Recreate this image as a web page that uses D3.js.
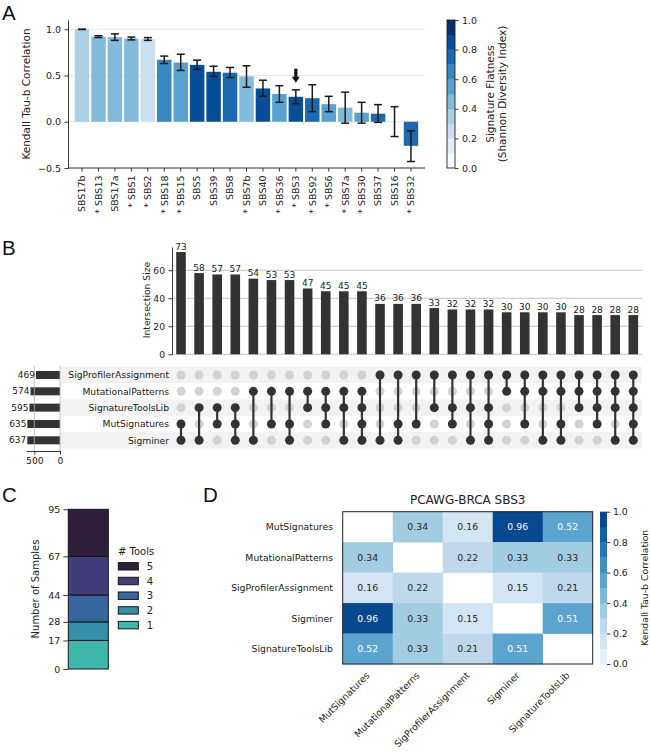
<!DOCTYPE html>
<html>
<head>
<meta charset="utf-8">
<script src="https://cdn.jsdelivr.net/npm/d3@7"></script>
<style>
  body { margin: 0; background: #fff; }
  svg { font-family: "DejaVu Sans", sans-serif; }
</style>
</head>
<body>
<svg id="fig" width="650" height="754"></svg>
<script>
// ---- panel A data
const sigNames = ["SBS17b", "* SBS13", "SBS17a", "* SBS1", "* SBS2", "* SBS18", "* SBS15", "SBS5", "SBS39", "SBS8",
  "* SBS7b", "SBS40", "* SBS36", "* SBS3", "* SBS92", "* SBS6", "* SBS7a", "* SBS30", "SBS37", "SBS16", "* SBS32"];
const tauMean = [1.0, 0.92, 0.915, 0.90, 0.895, 0.67, 0.64, 0.615, 0.54, 0.53, 0.49, 0.36, 0.30, 0.27, 0.255, 0.19, 0.152, 0.098, 0.087, 0.0, -0.26];
const tauLow = [0.997, 0.91, 0.88, 0.885, 0.88, 0.63, 0.555, 0.565, 0.49, 0.478, 0.373, 0.275, 0.21, 0.196, 0.11, 0.109, -0.015, -0.015, -0.007, -0.16, -0.43];
const tauHigh = [1.0, 0.93, 0.95, 0.915, 0.91, 0.71, 0.73, 0.666, 0.60, 0.587, 0.605, 0.449, 0.39, 0.345, 0.40, 0.275, 0.32, 0.21, 0.185, 0.163, -0.098];
const flatness = [0.35, 0.45, 0.45, 0.45, 0.25, 0.65, 0.55, 0.85, 0.85, 0.75, 0.45, 0.85, 0.55, 0.85, 0.75, 0.55, 0.45, 0.55, 0.75, 0.55, 0.75];
const markedSig = "* SBS3";

// ---- panel B data
const toolNames = ["SigProfilerAssignment", "MutationalPatterns", "SignatureToolsLib", "MutSignatures", "Sigminer"];
const toolTotals = [469, 574, 595, 635, 637];
const interSizes = [73, 58, 57, 57, 54, 53, 53, 47, 45, 45, 45, 36, 36, 36, 33, 32, 32, 32, 30, 30, 30, 30, 28, 28, 28, 28];
// members of each intersection, as indexes into toolNames
const interMembers = [[3, 4], [2, 4], [2, 3], [2, 3, 4], [1, 4], [1, 3], [1, 3, 4], [1, 2], [1, 2, 3], [1, 2, 4], [1, 2, 3, 4],
  [0, 4], [0, 3, 4], [0, 3], [0, 2], [0, 2, 3], [0, 2, 4], [0, 2, 3, 4], [0, 1], [0, 1, 3], [0, 1, 4], [0, 1, 3, 4],
  [0, 1, 2], [0, 1, 2, 3], [0, 1, 2, 4], [0, 1, 2, 3, 4]];

// ---- panel C data
const toolCounts = ["1", "2", "3", "4", "5"];
const sampleCounts = [17, 11, 16, 23, 28];

// ---- panel D data
const heatTools = ["MutSignatures", "MutationalPatterns", "SigProfilerAssignment", "Sigminer", "SignatureToolsLib"];
const heatValues = [
  [null, 0.34, 0.16, 0.96, 0.52],
  [0.34, null, 0.22, 0.33, 0.33],
  [0.16, 0.22, null, 0.15, 0.21],
  [0.96, 0.33, 0.15, null, 0.51],
  [0.52, 0.33, 0.21, 0.51, null]
];

const BLUES9 = ["#f7fbff", "#deebf7", "#c6dbef", "#9ecae1", "#6baed6", "#4292c6", "#2171b5", "#08519c", "#08306b"];
const MAKO5 = ["#40B7AD", "#348FA7", "#37659E", "#413D7B", "#2E1E3C"];
const blues = d3.scaleLinear().domain(d3.range(9).map(i => i / 8)).range(BLUES9);

const svg = d3.select('#fig');

function styleAxis(g, size) {
  g.attr('font-family', null).attr('font-size', null);
  g.selectAll('text').attr('font-size', size).attr('fill', '#222');
  g.selectAll('line,path').attr('stroke', '#222').attr('stroke-width', 0.9);
}

// panel letters
[["A", 2, 19.5], ["B", 2, 255], ["C", 2, 502], ["D", 203, 502]].forEach(([t, x, y]) => {
  svg.append('text').attr('x', x).attr('y', y).attr('font-family', 'Liberation Sans')
    .attr('font-size', 20.5).attr('fill', '#111').text(t);
});

// ================= A =================
const gA = svg.append('g');
const aColor = d3.scaleQuantize().domain([0, 1]).range(d3.range(10).map(i => blues(i / 9)));
const ax = d3.scaleBand().domain(sigNames).range([73.8, 419.2]).paddingInner(0.12).paddingOuter(0.06);
const ay = d3.scaleLinear().domain([-0.5, 1.1]).range([168, 20]);

gA.selectAll('line.grid').data([-0.5, 0, 0.5, 1]).join('line')
  .attr('class', 'grid')
  .attr('x1', 68).attr('x2', 425)
  .attr('y1', d => ay(d)).attr('y2', d => ay(d))
  .attr('stroke', '#e4e4e4').attr('stroke-width', 0.9);

gA.selectAll('rect.bar').data(sigNames).join('rect')
  .attr('class', 'bar')
  .attr('x', d => ax(d))
  .attr('width', ax.bandwidth())
  .attr('y', (d, i) => ay(Math.max(0, tauMean[i])))
  .attr('height', (d, i) => Math.abs(ay(tauMean[i]) - ay(0)))
  .attr('fill', (d, i) => aColor(flatness[i]));

const errG = gA.selectAll('g.err').data(sigNames).join('g')
  .attr('class', 'err')
  .attr('transform', d => `translate(${ax(d) + ax.bandwidth() / 2},0)`)
  .attr('stroke', '#1a1a1a').attr('stroke-width', 1.5);
errG.append('line').attr('y1', (d, i) => ay(tauLow[i])).attr('y2', (d, i) => ay(tauHigh[i]));
errG.append('line').attr('x1', -4).attr('x2', 4).attr('y1', (d, i) => ay(tauLow[i])).attr('y2', (d, i) => ay(tauLow[i]));
errG.append('line').attr('x1', -4).attr('x2', 4).attr('y1', (d, i) => ay(tauHigh[i])).attr('y2', (d, i) => ay(tauHigh[i]));

// arrow over the highlighted signature
const mi = sigNames.indexOf(markedSig);
const arrowX = ax(markedSig) + ax.bandwidth() / 2;
const arrowTip = ay(tauHigh[mi]) - 7;
gA.append('path')
  .attr('d', `M${arrowX - 1.6},${arrowTip - 14} L${arrowX + 1.6},${arrowTip - 14} L${arrowX + 1.6},${arrowTip - 6} L${arrowX + 4},${arrowTip - 6} L${arrowX},${arrowTip} L${arrowX - 4},${arrowTip - 6} L${arrowX - 1.6},${arrowTip - 6} Z`)
  .attr('fill', '#111');

const aYAxis = gA.append('g').attr('transform', 'translate(68,0)')
  .call(d3.axisLeft(ay).tickValues([-0.5, 0, 0.5, 1]).tickFormat(d3.format('.1f')).tickSize(3.5).tickPadding(3.5).tickSizeOuter(0));
styleAxis(aYAxis, 9.5);

const aXAxis = gA.append('g').attr('transform', 'translate(0,168)')
  .call(d3.axisBottom(ax).tickSize(3.5).tickSizeOuter(0));
aXAxis.select('.domain').remove();
styleAxis(aXAxis, 9.5);
aXAxis.selectAll('text')
  .attr('transform', 'rotate(-90)')
  .attr('x', -7.5).attr('y', 0).attr('dy', '0.35em')
  .style('text-anchor', 'end');
gA.append('line').attr('x1', 68).attr('x2', 425).attr('y1', 168).attr('y2', 168)
  .attr('stroke', '#222').attr('stroke-width', 0.9);

gA.append('text')
  .attr('transform', `translate(26,${(ay(1.1) + ay(-0.5)) / 2}) rotate(-90)`)
  .attr('text-anchor', 'middle').attr('dy', '0.35em')
  .attr('font-size', 10.5).attr('fill', '#222')
  .text('Kendall Tau-b Correlation');

// colorbar A
const cbA = d3.scaleLinear().domain([0, 1]).range([168, 20]);
gA.selectAll('rect.cb').data(d3.range(10)).join('rect')
  .attr('class', 'cb')
  .attr('x', 447).attr('width', 8)
  .attr('y', d => cbA((d + 1) / 10)).attr('height', cbA(0) - cbA(0.1) + 0.3)
  .attr('fill', d => blues(d / 9));
gA.append('rect').attr('x', 447).attr('y', 20).attr('width', 8).attr('height', 148)
  .attr('fill', 'none').attr('stroke', '#222').attr('stroke-width', 0.9);
const cbAAxis = gA.append('g').attr('transform', 'translate(455,0)')
  .call(d3.axisRight(cbA).tickValues(d3.range(0, 1.01, 0.2)).tickFormat(d3.format('.1f')).tickSize(3.5).tickPadding(3.5).tickSizeOuter(0));
cbAAxis.select('.domain').remove();
styleAxis(cbAAxis, 9.5);
[["Signature Flatness", 490], ["(Shannon Diversity Index)", 502.5]].forEach(([t, x]) => {
  gA.append('text')
    .attr('transform', `translate(${x},94) rotate(-90)`)
    .attr('text-anchor', 'middle').attr('dy', '0.35em')
    .attr('font-size', 10.5).attr('fill', '#222')
    .text(t);
});

// ================= B =================
const gB = svg.append('g');
const bx = d3.scalePoint().domain(d3.range(interSizes.length)).range([181, 633.3]);
const by = d3.scaleLinear().domain([0, 76.6]).range([354.3, 247]);
const barW = 9.6;

gB.selectAll('line.grid').data([0, 20, 40, 60]).join('line')
  .attr('class', 'grid')
  .attr('x1', 172).attr('x2', 642)
  .attr('y1', d => by(d)).attr('y2', d => by(d))
  .attr('stroke', '#b5b5b5').attr('stroke-width', 0.8);

gB.selectAll('rect.ibar').data(interSizes).join('rect')
  .attr('class', 'ibar')
  .attr('x', (d, i) => bx(i) - barW / 2)
  .attr('width', barW)
  .attr('y', d => by(d))
  .attr('height', d => by(0) - by(d))
  .attr('fill', '#333');

gB.selectAll('text.ilab').data(interSizes).join('text')
  .attr('class', 'ilab')
  .attr('x', (d, i) => bx(i))
  .attr('y', d => by(d) - 2.5)
  .attr('text-anchor', 'middle')
  .attr('font-size', 9).attr('fill', '#222')
  .text(d => d);

const bYAxis = gB.append('g').attr('transform', 'translate(172,0)')
  .call(d3.axisLeft(by).tickValues([0, 20, 40, 60]).tickSize(3.5).tickPadding(3.5).tickSizeOuter(0));
styleAxis(bYAxis, 9.2);

gB.append('text')
  .attr('transform', 'translate(147,300) rotate(-90)')
  .attr('text-anchor', 'middle').attr('dy', '0.35em')
  .attr('font-size', 9.2).attr('fill', '#222')
  .text('Intersection Size');

// matrix
const my = d3.scalePoint().domain(toolNames).range([375, 440.3]);
const rowH = my.step();
gB.selectAll('rect.shade').data(toolNames.filter((d, i) => i % 2 === 0)).join('rect')
  .attr('class', 'shade')
  .attr('x', 60).attr('width', 582)
  .attr('y', d => my(d) - rowH / 2).attr('height', rowH)
  .attr('fill', '#f2f2f2');

gB.selectAll('text.rowlab').data(toolNames).join('text')
  .attr('class', 'rowlab')
  .attr('x', 169).attr('y', d => my(d)).attr('dy', '0.35em')
  .attr('text-anchor', 'end')
  .attr('font-size', 9.2).attr('fill', '#222')
  .text(d => d);

const cols = gB.selectAll('g.col').data(interMembers).join('g')
  .attr('class', 'col')
  .attr('transform', (d, i) => `translate(${bx(i)},0)`);
cols.selectAll('circle').data(d => toolNames.map((t, k) => ({ t, on: d.includes(k) }))).join('circle')
  .attr('cy', d => my(d.t)).attr('r', 4.5)
  .attr('fill', d => d.on ? '#333' : '#d2d2d2');
cols.append('line')
  .attr('y1', d => my(toolNames[d3.min(d)]))
  .attr('y2', d => my(toolNames[d3.max(d)]))
  .attr('stroke', '#333').attr('stroke-width', 2.2);

// set totals
const sx = d3.scaleLinear().domain([0, 656]).range([60, 26.3]);
gB.selectAll('rect.tot').data(toolTotals).join('rect')
  .attr('class', 'tot')
  .attr('x', d => sx(d)).attr('width', d => sx(0) - sx(d))
  .attr('y', (d, i) => my(toolNames[i]) - 4).attr('height', 8)
  .attr('fill', '#333');
gB.selectAll('line.tgrid').data([0, 500]).join('line')
  .attr('class', 'tgrid')
  .attr('x1', d => sx(d)).attr('x2', d => sx(d))
  .attr('y1', 366).attr('y2', 451)
  .attr('stroke', '#b0b0b0').attr('stroke-width', 0.8);
gB.selectAll('text.tlab').data(toolTotals).join('text')
  .attr('class', 'tlab')
  .attr('x', d => sx(d) - 1).attr('y', (d, i) => my(toolNames[i])).attr('dy', '0.35em')
  .attr('text-anchor', 'end')
  .attr('font-size', 9).attr('fill', '#222')
  .text(d => d);
const sAxis = gB.append('g').attr('transform', 'translate(0,451)')
  .call(d3.axisBottom(sx).tickValues([500, 0]).tickSize(3.5).tickPadding(2.5).tickSizeOuter(0));
styleAxis(sAxis, 9.2);

// ================= C =================
const gC = svg.append('g');
const cy = d3.scaleLinear().domain([0, d3.sum(sampleCounts)]).range([669, 509.3]);
const cumEnds = Array.from(d3.cumsum(sampleCounts));
const cumStarts = [0, ...cumEnds.slice(0, -1)];

gC.selectAll('rect.seg').data(sampleCounts).join('rect')
  .attr('class', 'seg')
  .attr('x', 68.3).attr('width', 40)
  .attr('y', (d, i) => cy(cumEnds[i]))
  .attr('height', (d, i) => cy(cumStarts[i]) - cy(cumEnds[i]))
  .attr('fill', (d, i) => MAKO5[i])
  .attr('stroke', '#151515').attr('stroke-width', 1);

const cAxis = gC.append('g').attr('transform', 'translate(68.3,0)')
  .call(d3.axisLeft(cy).tickValues([0, ...cumEnds]).tickSize(5).tickPadding(3).tickSizeOuter(0));
cAxis.select('.domain').remove();
styleAxis(cAxis, 9.5);

gC.append('text')
  .attr('transform', 'translate(35,589) rotate(-90)')
  .attr('text-anchor', 'middle').attr('dy', '0.35em')
  .attr('font-size', 10).attr('fill', '#222')
  .text('Number of Samples');

gC.append('text').attr('x', 118).attr('y', 555.3)
  .attr('font-size', 10).attr('fill', '#222').text('# Tools');
const legendRows = toolCounts.map((t, i) => ({ t, c: MAKO5[i] })).reverse();
const leg = gC.selectAll('g.leg').data(legendRows).join('g')
  .attr('class', 'leg')
  .attr('transform', (d, i) => `translate(118.3,${566.3 + i * 14.7})`);
leg.append('rect').attr('x', 0).attr('y', -3.7).attr('width', 20).attr('height', 7.4)
  .attr('fill', d => d.c).attr('stroke', '#151515').attr('stroke-width', 1);
leg.append('text').attr('x', 28.4).attr('dy', '0.35em')
  .attr('font-size', 10).attr('fill', '#222').text(d => d.t);

// ================= D =================
const gD = svg.append('g');
const hx = d3.scaleBand().domain(heatTools).range([342.7, 592.7]);
const hy = d3.scaleBand().domain(heatTools).range([511.7, 664]);
const dColor = d3.scaleQuantize().domain([0, 1]).range(d3.range(10).map(i => blues((i + 1) / 11)));

const cells = [];
heatValues.forEach((row, r) => row.forEach((v, c) => { if (v !== null) cells.push({ r, c, v }); }));

gD.selectAll('rect.cell').data(cells).join('rect')
  .attr('class', 'cell')
  .attr('x', d => hx(heatTools[d.c])).attr('y', d => hy(heatTools[d.r]))
  .attr('width', hx.bandwidth() + 0.3).attr('height', hy.bandwidth() + 0.3)
  .attr('fill', d => dColor(d.v));
gD.selectAll('text.val').data(cells).join('text')
  .attr('class', 'val')
  .attr('x', d => hx(heatTools[d.c]) + hx.bandwidth() / 2)
  .attr('y', d => hy(heatTools[d.r]) + hy.bandwidth() / 2)
  .attr('dy', '0.35em').attr('text-anchor', 'middle')
  .attr('font-size', 9.3)
  .attr('fill', d => d.v > 0.45 ? '#ffffff' : '#262626')
  .text(d => d.v.toFixed(2));
gD.append('rect').attr('x', 342.7).attr('y', 511.7).attr('width', 250).attr('height', 152.3)
  .attr('fill', 'none').attr('stroke', '#222').attr('stroke-width', 1);

gD.selectAll('text.hrow').data(heatTools).join('text')
  .attr('class', 'hrow')
  .attr('x', 333).attr('y', d => hy(d) + hy.bandwidth() / 2).attr('dy', '0.35em')
  .attr('text-anchor', 'end')
  .attr('font-size', 9.3).attr('fill', '#222')
  .text(d => d);
gD.selectAll('text.hcol').data(heatTools).join('text')
  .attr('class', 'hcol')
  .attr('transform', d => `translate(${hx(d) + hx.bandwidth() / 2 + 2.5},676) rotate(-45)`)
  .attr('text-anchor', 'end')
  .attr('font-size', 9.3).attr('fill', '#222')
  .text(d => d);

gD.append('text').attr('x', 467.7).attr('y', 504.3).attr('text-anchor', 'middle')
  .attr('font-size', 12).attr('fill', '#222').text('PCAWG-BRCA SBS3');

// colorbar D
const cbD = d3.scaleLinear().domain([0, 1]).range([664, 511.7]);
gD.selectAll('rect.cb').data(d3.range(10)).join('rect')
  .attr('class', 'cb')
  .attr('x', 600).attr('width', 7)
  .attr('y', d => cbD((d + 1) / 10)).attr('height', cbD(0) - cbD(0.1) + 0.3)
  .attr('fill', d => blues((d + 1) / 11));
const cbDAxis = gD.append('g').attr('transform', 'translate(607,0)')
  .call(d3.axisRight(cbD).tickValues(d3.range(0, 1.01, 0.2)).tickFormat(d3.format('.1f')).tickSize(3.5).tickPadding(2.5).tickSizeOuter(0));
cbDAxis.select('.domain').remove();
styleAxis(cbDAxis, 9.3);
gD.append('text')
  .attr('transform', `translate(645,${(cbD(0) + cbD(1)) / 2}) rotate(-90)`)
  .attr('text-anchor', 'middle').attr('dy', '0.35em')
  .attr('font-size', 9.3).attr('fill', '#222')
  .text('Kendall Tau-b Correlation');
</script>
</body>
</html>
